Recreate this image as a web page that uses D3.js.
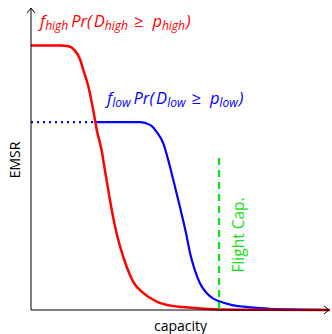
<!DOCTYPE html>
<html>
<head>
<meta charset="utf-8">
<script src="https://cdn.jsdelivr.net/npm/d3@7"></script>
<style>
  html, body { margin: 0; padding: 0; background: #fff; }
  text { font-family: "Open Sans", "DejaVu Sans", sans-serif; }
</style>
</head>
<body>
<div id="chart"></div>
<script>
// capacity (0-100) against EMSR (0-100)
var highX = [0, 9.7, 12.6, 14.6, 16.4, 17.5, 19.2, 20.8, 22.0, 23.6, 24.7, 26.4, 28.1, 29.8, 32.0, 34.2, 37.6, 42.0, 47.6, 53.2, 63.2, 76.6, 100];
var highY = [88.2, 88.2, 87.9, 86.6, 83.6, 80, 74.4, 66.7, 60, 53.3, 46.7, 36.7, 27.8, 21.1, 14.4, 9.4, 5.6, 2.8, 1.3, 0.8, 0.2, 0.07, 0];

var lowX = [21.7, 36.5, 39.8, 42.0, 44.2, 45.9, 47.6, 49.8, 52.1, 53.2, 54.8, 56.5, 58.8, 61.0, 63.2, 66.6, 71.0, 76.6, 79.9, 90, 100];
var lowY = [62.6, 62.6, 61.7, 59.4, 55.6, 50, 43.3, 34.4, 24.4, 18.9, 13.3, 8.9, 5.6, 3.8, 2.8, 1.8, 1.1, 0.6, 0.4, 0.17, 0];

var lowDottedX = [0, 21.7];
var flightCap = 62.9;
var flightCapTop = 50.7;

(function(){
    var width = 332, height = 334;

    var svg = d3.select("#chart")
        .append("svg")
        .attr("width", width)
        .attr("height", height);

    var x = d3.scaleLinear().domain([0, 100]).range([31, 330]);
    var y = d3.scaleLinear().domain([0, 100]).range([310, 10]);

    var line = d3.line()
        .x(function(d){ return x(d[0]); })
        .y(function(d){ return y(d[1]); })
        .curve(d3.curveMonotoneX);

    var high = d3.zip(highX, highY);
    var low = d3.zip(lowX, lowY);

    // dotted part of the low curve
    svg.append("line")
        .attr("x1", x(lowDottedX[0]))
        .attr("x2", x(lowDottedX[1]))
        .attr("y1", y(lowY[0]))
        .attr("y2", y(lowY[0]))
        .attr("stroke", "#0000ff")
        .attr("stroke-width", 2.2)
        .attr("stroke-dasharray", "2,4");

    svg.append("path")
        .attr("d", line(low))
        .attr("fill", "none")
        .attr("stroke", "#0000ff")
        .attr("stroke-width", 2.2);

    svg.append("path")
        .attr("d", line(high))
        .attr("fill", "none")
        .attr("stroke", "#ff0000")
        .attr("stroke-width", 2.5);

    // flight capacity
    svg.append("line")
        .attr("x1", x(flightCap))
        .attr("x2", x(flightCap))
        .attr("y1", y(flightCapTop))
        .attr("y2", y(0))
        .attr("stroke", "#11e011")
        .attr("stroke-width", 2.2)
        .attr("stroke-dasharray", "7,5");

    svg.append("text")
        .attr("transform", "translate(" + (x(flightCap) + 25) + "," + y(25) + ") rotate(-90)")
        .attr("text-anchor", "middle")
        .attr("fill", "#11e011")
        .attr("font-size", 15.5)
        .text("Flight Cap.");

    // axes with arrows
    svg.append("defs").append("marker")
        .attr("id", "arrow")
        .attr("viewBox", "-6 -5 8 10")
        .attr("refX", 0).attr("refY", 0)
        .attr("markerWidth", 8).attr("markerHeight", 10)
        .attr("markerUnits", "userSpaceOnUse")
        .attr("orient", "auto")
        .append("path")
        .attr("d", "M-5,-4 L0,0 L-5,4")
        .attr("fill", "none")
        .attr("stroke", "#000")
        .attr("stroke-width", 1);

    svg.append("line")
        .attr("x1", x(0)).attr("y1", y(0))
        .attr("x2", 329).attr("y2", y(0))
        .attr("stroke", "#000").attr("stroke-width", 1)
        .attr("marker-end", "url(#arrow)");

    svg.append("line")
        .attr("x1", x(0)).attr("y1", y(0))
        .attr("x2", x(0)).attr("y2", 8)
        .attr("stroke", "#000").attr("stroke-width", 1)
        .attr("marker-end", "url(#arrow)");

    svg.append("text")
        .attr("x", (x(0) + 330) / 2)
        .attr("y", 331)
        .attr("text-anchor", "middle")
        .attr("font-size", 14)
        .text("capacity");

    svg.append("text")
        .attr("transform", "translate(20," + y(50) + ") rotate(-90)")
        .attr("text-anchor", "middle")
        .attr("font-size", 14)
        .text("EMSR");

    // curve labels
    function label(px, py, color, sub) {
        var t = svg.append("text")
            .attr("x", px).attr("y", py)
            .attr("fill", color)
            .attr("font-size", 16.5)
            .attr("font-style", "italic");
        t.append("tspan").text("f");
        t.append("tspan").attr("font-size", 12).attr("dy", 3).text(sub);
        t.append("tspan").attr("dy", -3).attr("dx", 3).text("Pr(");
        t.append("tspan").attr("dx", 2).text("D");
        t.append("tspan").attr("font-size", 12).attr("dy", 3).text(sub);
        t.append("tspan").attr("dy", -3).attr("dx", 6).attr("font-style", "normal").text("\u2265");
        t.append("tspan").attr("dx", 9).text("p");
        t.append("tspan").attr("font-size", 12).attr("dy", 3).text(sub);
        t.append("tspan").attr("dy", -3).attr("dx", 1).text(")");
    }

    label(40, 27, "#ff0000", "high");
    label(107, 104, "#0000ff", "low");
})();
</script>
</body>
</html>
